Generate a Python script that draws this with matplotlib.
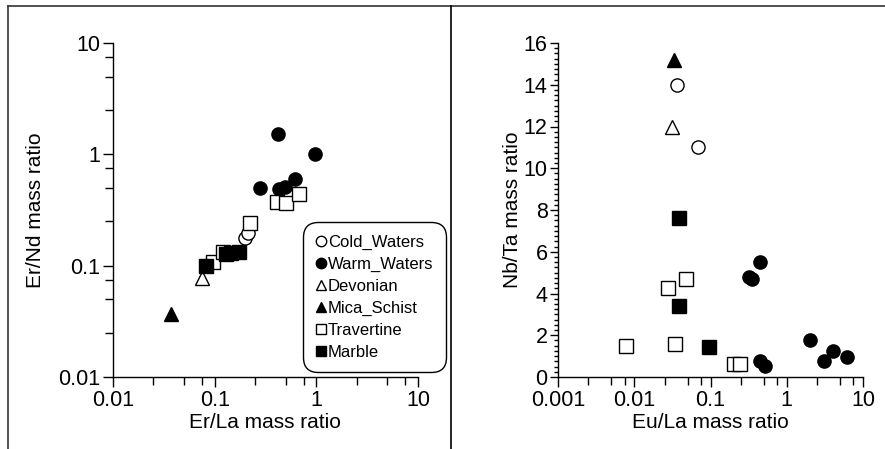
import matplotlib
matplotlib.use("Agg")
import matplotlib.pyplot as plt
import numpy as np
from matplotlib.lines import Line2D
from matplotlib.ticker import FixedLocator, FixedFormatter, NullFormatter

plt.rcParams['font.family'] = ['Liberation Sans', 'DejaVu Sans']

# ---------------- data: left panel (Er/La vs Er/Nd) ----------------
cold_erla = [0.197, 0.211]
cold_ernd = [0.176, 0.198]
warm_erla = [0.28, 0.42, 0.98, 0.43, 0.49, 0.62]
warm_ernd = [0.50, 1.51, 1.00, 0.49, 0.51, 0.60]
dev_erla = [0.075]
dev_ernd = [0.078]
mica_erla = [0.037]
mica_ernd = [0.037]
trav_erla = [0.097, 0.122, 0.224, 0.41, 0.50, 0.68]
trav_ernd = [0.108, 0.132, 0.24, 0.37, 0.363, 0.44]
marb_erla = [0.082, 0.128, 0.145, 0.175]
marb_ernd = [0.100, 0.127, 0.130, 0.132]

# ---------------- data: right panel (Eu/La vs Nb/Ta) ----------------
cold_eula = [0.036, 0.068]
cold_nbta = [14.0, 11.0]
warm_eula = [0.44, 0.32, 0.35, 0.44, 0.52, 2.04, 3.08, 4.04, 6.1]
warm_nbta = [5.5, 4.8, 4.7, 0.78, 0.54, 1.77, 0.77, 1.26, 0.97]
dev_eula = [0.031]
dev_nbta = [12.0]
mica_eula = [0.033]
mica_nbta = [15.2]
trav_eula = [0.048, 0.028, 0.0079, 0.034, 0.205, 0.244]
trav_nbta = [4.7, 4.25, 1.5, 1.57, 0.61, 0.61]
marb_eula = [0.039, 0.039, 0.095]
marb_nbta = [7.6, 3.4, 1.45]

labels = ["Cold_Waters", "Warm_Waters", "Devonian", "Mica_Schist", "Travertine", "Marble"]
styles = [("o", "white"), ("o", "black"), ("^", "white"), ("^", "black"), ("s", "white"), ("s", "black")]
sizes = [9.5, 9.5, 9.5, 9.5, 9.5, 9.5]

W, H = 885, 449
fig = plt.figure(figsize=(W / 100, H / 100), dpi=100)

def fx(px):
    return px / W

def fy(py):
    return 1 - py / H

axL = fig.add_axes([fx(113), fy(377), fx(418) - fx(113), fy(43) - fy(377)])
axR = fig.add_axes([fx(558), fy(377), fx(863) - fx(558), fy(43) - fy(377)])

left_sets = [(cold_erla, cold_ernd), (warm_erla, warm_ernd), (dev_erla, dev_ernd),
             (mica_erla, mica_ernd), (trav_erla, trav_ernd), (marb_erla, marb_ernd)]
right_sets = [(cold_eula, cold_nbta), (warm_eula, warm_nbta), (dev_eula, dev_nbta),
              (mica_eula, mica_nbta), (trav_eula, trav_nbta), (marb_eula, marb_nbta)]

for (xs, ys), (m, fc), lab, ms in zip(left_sets, styles, labels, sizes):
    axL.plot(xs, ys, linestyle="none", marker=m, markersize=ms,
             markerfacecolor=fc, markeredgecolor="black", markeredgewidth=1.0,
             label=lab, clip_on=False)
for (xs, ys), (m, fc), ms in zip(right_sets, styles, sizes):
    axR.plot(xs, ys, linestyle="none", marker=m, markersize=ms,
             markerfacecolor=fc, markeredgecolor="black", markeredgewidth=1.0,
             clip_on=False)

def log_minor(lo, hi):
    out = []
    for k in range(lo, hi):
        for f in (2.5, 5, 7.5):
            out.append(f * 10.0 ** k)
    return out

tick_fs = 15.5
# left axes
axL.set_xscale("log")
axL.set_yscale("log")
axL.set_xlim(0.01, 10)
axL.set_ylim(0.01, 10)
axL.xaxis.set_major_locator(FixedLocator([0.01, 0.1, 1, 10]))
axL.xaxis.set_major_formatter(FixedFormatter(["0.01", "0.1", "1", "10"]))
axL.xaxis.set_minor_locator(FixedLocator(log_minor(-2, 1)))
axL.xaxis.set_minor_formatter(NullFormatter())
axL.yaxis.set_major_locator(FixedLocator([0.01, 0.1, 1, 10]))
axL.yaxis.set_major_formatter(FixedFormatter(["0.01", "0.1", "1", "10"]))
axL.yaxis.set_minor_locator(FixedLocator(log_minor(-2, 1)))
axL.yaxis.set_minor_formatter(NullFormatter())

# right axes
axR.set_xscale("log")
axR.set_xlim(0.001, 10)
axR.set_ylim(0, 16)
axR.xaxis.set_major_locator(FixedLocator([0.001, 0.01, 0.1, 1, 10]))
axR.xaxis.set_major_formatter(FixedFormatter(["0.001", "0.01", "0.1", "1", "10"]))
axR.xaxis.set_minor_locator(FixedLocator(log_minor(-3, 1)))
axR.xaxis.set_minor_formatter(NullFormatter())
axR.yaxis.set_major_locator(FixedLocator(np.arange(0, 17, 2)))
axR.yaxis.set_minor_locator(FixedLocator(np.arange(0, 16.01, 0.25)))

for ax in (axL, axR):
    ax.patch.set_alpha(0)
    for s in ("top", "right"):
        ax.spines[s].set_visible(False)
    for s in ("left", "bottom"):
        ax.spines[s].set_linewidth(1.0)
    ax.tick_params(which="major", direction="out", length=7, width=1.0,
                   labelsize=tick_fs, pad=2)
    ax.tick_params(which="minor", direction="out", length=6, width=1.0)
axR.tick_params(axis="y", which="minor", length=3)
axR.tick_params(axis="y", which="major", length=6, pad=1.5)

lab_fs = 15
fig.text(fx(265), fy(423), "Er/La mass ratio", ha="center", va="center", fontsize=lab_fs)
fig.text(fx(36), fy(210), "Er/Nd mass ratio", ha="center", va="center", rotation=90, fontsize=lab_fs)
fig.text(fx(710), fy(423), "Eu/La mass ratio", ha="center", va="center", fontsize=lab_fs)
fig.text(fx(512), fy(210), "Nb/Ta mass ratio", ha="center", va="center", rotation=90, fontsize=lab_fs)

leg_handles = [Line2D([], [], linestyle="none", marker=m, markersize=7.5,
                      markerfacecolor=fc, markeredgecolor="black", markeredgewidth=1.0)
               for (m, fc) in styles]
leg = fig.legend(leg_handles, labels, loc="upper left",
                 bbox_to_anchor=(fx(303), fy(222)), bbox_transform=fig.transFigure,
                 fontsize=12, frameon=True, fancybox=True, handlelength=0.6,
                 handletextpad=0.15, labelspacing=0.42, borderpad=0.75,
                 borderaxespad=0, edgecolor="black", framealpha=1)
leg.get_frame().set_linewidth(1.0)
leg.get_frame().set_boxstyle("round", pad=0, rounding_size=0.9)

# figure frame lines
fig.add_artist(Line2D([fx(8), 1], [fy(5.5), fy(5.5)], color="#333333", lw=1.2))
fig.add_artist(Line2D([fx(8), fx(8)], [0, fy(5.5)], color="#333333", lw=1.2))
fig.add_artist(Line2D([fx(451.5), fx(451.5)], [0, fy(5.5)], color="black", lw=1.2))

fig.savefig("out.png", dpi=100)
